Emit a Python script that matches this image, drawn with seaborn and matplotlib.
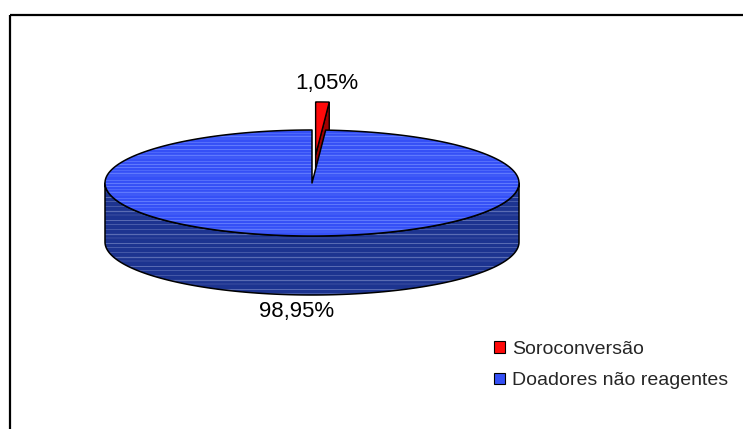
import numpy as np
import matplotlib
matplotlib.use("Agg")
import matplotlib.pyplot as plt
from matplotlib.patches import Polygon, Rectangle, Patch
from matplotlib.collections import LineCollection
import seaborn as sns

sns.set_theme(style="white")
plt.rcParams["font.family"] = ["Liberation Sans", "DejaVu Sans"]

# Data
categories = ["Soroconversão", "Doadores não reagentes"]
values = [1.05, 98.95]
label_texts = [f"{v:.2f}".replace(".", ",") + "%" for v in values]

# Colours
red_top, red_wall = "#ff0a0a", "#a00000"
blue_top, blue_top_stripe = "#3550f6", "#6a84ff"
blue_side, blue_side_stripe = "#1d3490", "#6a7bbd"

# Layout of the tilted disc (figure pixel space)
cx, cy = 312.0, 183.0
a, b = 207.0, 53.0
depth = 59.0
explode = [0.53, 0.0]

fig = plt.figure(figsize=(7.43, 4.29), dpi=100)
ax = fig.add_axes([0, 0, 1, 1])
ax.set_xlim(0, 743)
ax.set_ylim(429, 0)
ax.axis("off")


def pt(theta, r=1.0, z=0.0, off=(0.0, 0.0)):
    t = np.radians(theta)
    return (cx + off[0] + r * a * np.cos(t), cy + off[1] - r * b * np.sin(t) + z)


def arc(t0, t1, z=0.0, off=(0.0, 0.0), n=200):
    ts = np.linspace(t0, t1, n)
    return [pt(t, 1.0, z, off) for t in ts]


def striped(poly_pts, base, stripe, zorder, step, widths, alpha=0.9):
    poly = Polygon(poly_pts, closed=True, facecolor=base, edgecolor="none", zorder=zorder)
    ax.add_patch(poly)
    ys = np.array([p[1] for p in poly_pts])
    xs = np.array([p[0] for p in poly_pts])
    rows = np.arange(ys.min(), ys.max(), step)
    segs = [[(xs.min() - 2, y), (xs.max() + 2, y)] for y in rows]
    lws = [widths[i % len(widths)] for i in range(len(rows))]
    lc = LineCollection(segs, colors=stripe, linewidths=lws, alpha=alpha, zorder=zorder + 0.1)
    lc.set_clip_path(poly)
    ax.add_collection(lc)
    outline = Polygon(poly_pts, closed=True, facecolor="none", edgecolor="black",
                      linewidth=1.1, zorder=zorder + 0.2, joinstyle="round")
    ax.add_patch(outline)


# Slice angles: start at 12 o'clock and run clockwise
fracs = np.array(values) / sum(values)
starts, ends = [], []
ang = 90.0
for f in fracs:
    starts.append(ang)
    ang -= f * 360.0
    ends.append(ang)

# Small exploded slice (drawn first: it sits behind the large one)
mid = (starts[0] + ends[0]) / 2
off = (explode[0] * a * np.cos(np.radians(mid)), -explode[0] * b * np.sin(np.radians(mid)))
c_top = pt(0, 0, 0, off)
c_bot = pt(0, 0, depth, off)
wall = [c_top, pt(ends[0], 1, 0, off), pt(ends[0], 1, depth, off), c_bot]
ax.add_patch(Polygon(wall, closed=True, facecolor=red_wall, edgecolor="black", linewidth=1.0, zorder=2))
top_red = [c_top] + arc(starts[0], ends[0], 0, off, 20)
ax.add_patch(Polygon(top_red, closed=True, facecolor=red_top, edgecolor="black", linewidth=1.0, zorder=3))

# Large slice: front side wall, then top face
side = arc(180, 360, 0) + arc(360, 180, depth)
striped(side, blue_side, blue_side_stripe, 4, 4.6, (0.45, 0.9, 0.35, 0.7, 0.5), alpha=0.8)

top_blue = [pt(0, 0)] + arc(ends[0], ends[1], 0, n=600)
striped(top_blue, blue_top, blue_top_stripe, 6, 3.1, (0.7, 0.4, 1.0, 0.35, 0.55, 0.8), alpha=0.8)

# Value labels
ax.text(327, 83, label_texts[0], ha="center", va="center", fontsize=16, color="black", zorder=10)
ax.text(297, 311, label_texts[1], ha="center", va="center", fontsize=16, color="black", zorder=10)

# Legend
handles = [Patch(facecolor=red_top, edgecolor="black", linewidth=0.8),
           Patch(facecolor=blue_top, edgecolor="black", linewidth=0.8)]
ax.legend(handles, categories, loc="upper left", bbox_to_anchor=(494, 341),
          bbox_transform=ax.transData, frameon=False, fontsize=14,
          handlelength=0.55, handleheight=0.55, handletextpad=0.4,
          borderpad=0, borderaxespad=0, labelspacing=0.74)

# Outer frame
ax.add_patch(Rectangle((9.5, 14.5), 900, 600, fill=False, edgecolor="black", linewidth=1.6, zorder=20))

fig.savefig("out.png", dpi=100)
